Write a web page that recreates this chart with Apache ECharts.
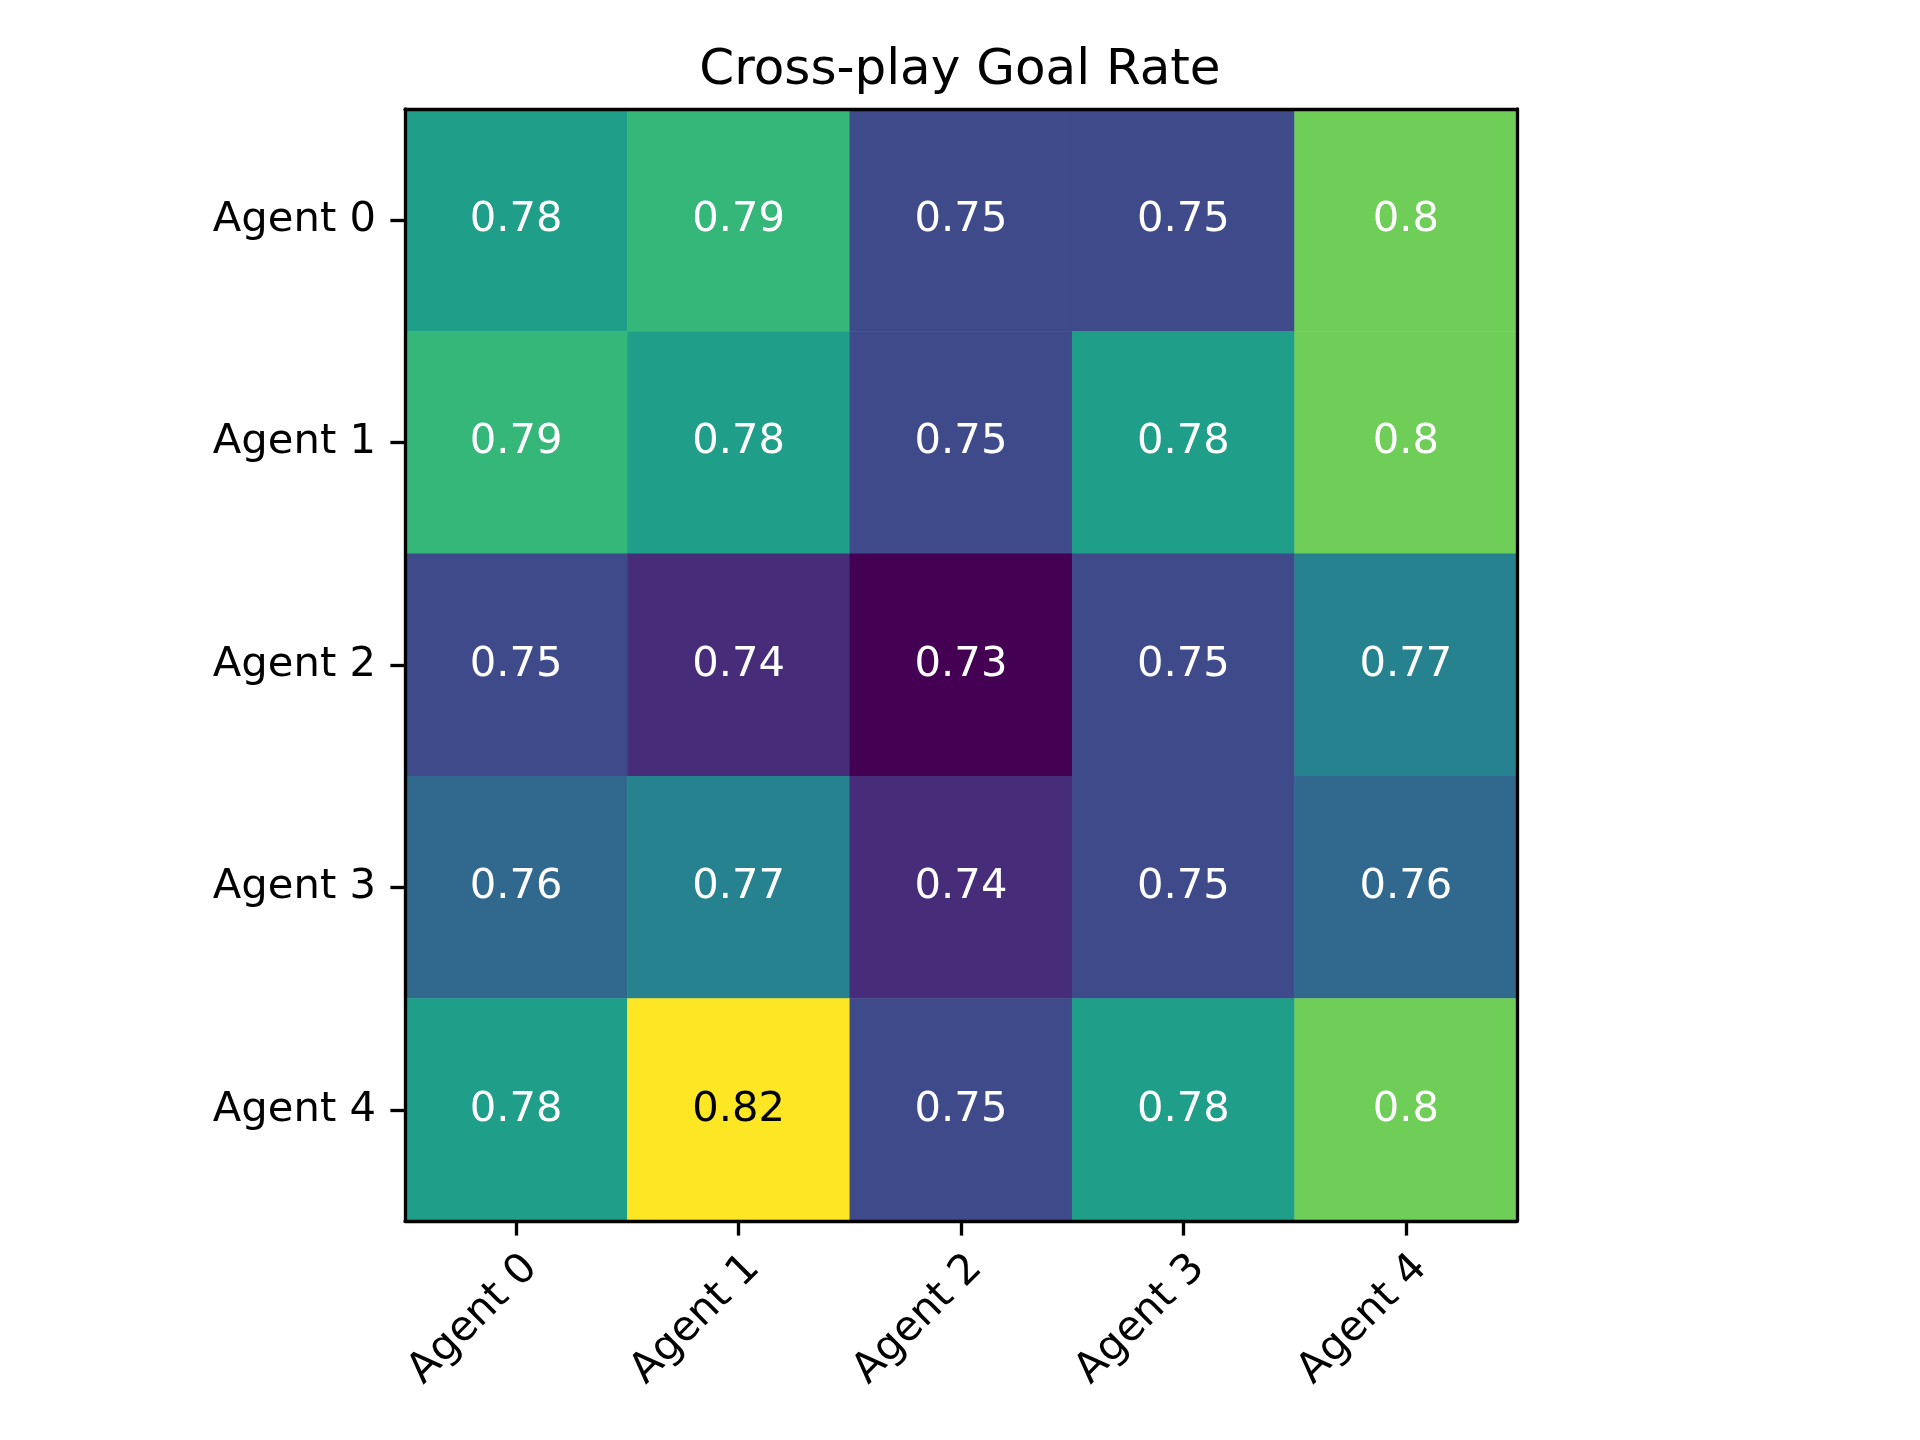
<!DOCTYPE html>
<html>
<head>
<meta charset="utf-8">
<script src="https://cdn.jsdelivr.net/npm/echarts@6/dist/echarts.min.js"></script>
<style>
html,body{margin:0;padding:0;background:#fff;}
#chart{width:1920px;height:1440px;}
</style>
</head>
<body>
<div id="chart"></div>
<script>
const titleText = 'Cross-play Goal Rate';
const xCategories = ['Agent 0', 'Agent 1', 'Agent 2', 'Agent 3', 'Agent 4'];
const yCategories = ['Agent 0', 'Agent 1', 'Agent 2', 'Agent 3', 'Agent 4'];
const row0 = [0.78, 0.79, 0.75, 0.75, 0.8];
const row1 = [0.79, 0.78, 0.75, 0.78, 0.8];
const row2 = [0.75, 0.74, 0.73, 0.75, 0.77];
const row3 = [0.76, 0.77, 0.74, 0.75, 0.76];
const row4 = [0.78, 0.82, 0.75, 0.78, 0.8];
const rows = [row0, row1, row2, row3, row4];
const colorMin = 0.73;
const colorMax = 0.82;
const viridis = ['#440154', '#472c7a', '#3e4a89', '#31688e', '#26828e',
                 '#1f9e89', '#35b779', '#6ece58', '#b5de2b', '#fde725'];

const FONT = 'DejaVu Sans';
const LW = 3.33;
const data = [];
rows.forEach((row, yi) => {
  row.forEach((v, xi) => {
    const t = (v - colorMin) / (colorMax - colorMin);
    data.push({ value: [xi, yi, v], label: { color: t > 0.9 ? '#000000' : '#ffffff' } });
  });
});

const chart = echarts.init(document.getElementById('chart'), null, { renderer: 'canvas' });
chart.setOption({
  animation: false,
  backgroundColor: '#ffffff',
  title: {
    text: titleText,
    left: 'center',
    top: 46,
    padding: 0,
    textStyle: { fontFamily: FONT, fontSize: 50, fontWeight: 'normal', color: '#000000' }
  },
  grid: { left: 405, top: 109, width: 1112, height: 1112 },
  xAxis: [{
    type: 'category',
    data: xCategories,
    position: 'bottom',
    z: 10,
    axisLine: { show: true, lineStyle: { color: '#000', width: LW } },
    axisTick: { show: true, alignWithLabel: true, length: 14.6, lineStyle: { color: '#000', width: LW } },
    axisLabel: { rotate: 45, margin: 26, align: 'right', verticalAlign: 'top', fontFamily: FONT, fontSize: 41.7, color: '#000' },
    splitLine: { show: false }
  }, {
    type: 'category',
    data: xCategories,
    position: 'top',
    z: 10,
    axisLine: { show: true, lineStyle: { color: '#000', width: LW } },
    axisTick: { show: false },
    axisLabel: { show: false }
  }],
  yAxis: [{
    type: 'category',
    data: yCategories,
    inverse: true,
    position: 'left',
    z: 10,
    axisLine: { show: true, lineStyle: { color: '#000', width: LW } },
    axisTick: { show: true, alignWithLabel: true, length: 14.6, lineStyle: { color: '#000', width: LW } },
    axisLabel: { margin: 29, fontFamily: FONT, fontSize: 41.7, color: '#000' },
    splitLine: { show: false }
  }, {
    type: 'category',
    data: yCategories,
    inverse: true,
    position: 'right',
    z: 10,
    axisLine: { show: true, lineStyle: { color: '#000', width: LW } },
    axisTick: { show: false },
    axisLabel: { show: false }
  }],
  visualMap: {
    show: false,
    type: 'continuous',
    min: colorMin,
    max: colorMax,
    dimension: 2,
    inRange: { color: viridis }
  },
  series: [{
    type: 'heatmap',
    xAxisIndex: 0,
    yAxisIndex: 0,
    data: data,
    label: {
      show: true,
      fontFamily: FONT,
      fontSize: 41.7,
      formatter: p => String(p.value[2])
    },
    itemStyle: { borderWidth: 0 },
    emphasis: { disabled: true }
  }]
});
</script>
</body>
</html>
